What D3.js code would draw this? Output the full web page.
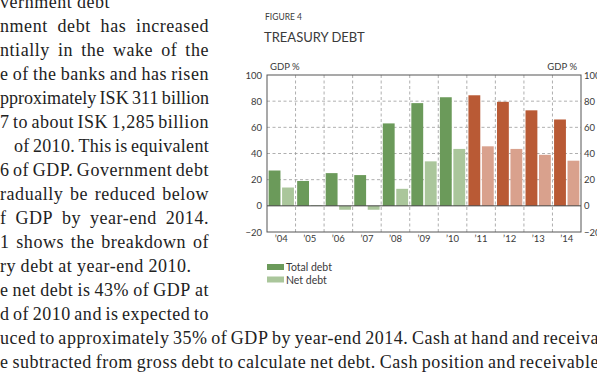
<!DOCTYPE html>
<html>
<head>
<meta charset="UTF-8">
<title>Treasury debt</title>
<script src="https://d3js.org/d3.v7.min.js"></script>
<style>
    body { margin: 0; background: white; }
    svg { display: block; }
    .para { font-family: "Liberation Serif", serif; font-size: 18px; fill: #222; }
    .chart text { font-family: Lato, "Open Sans", sans-serif; fill: #3a3a3a; }
    .tick-label { font-size: 9.5px; }
</style>
</head>
<body>
<script>
    var width = 597, height = 374;

    // chart data
    var years = ["'04", "'05", "'06", "'07", "'08", "'09", "'10", "'11", "'12", "'13", "'14"];
    var totalDebt = [27, 19, 25, 23.5, 63, 78.5, 83, 84.5, 79.5, 73, 66];
    var netDebt = [14, 0.5, -3, -3, 13, 34, 43.5, 45.5, 43.5, 39, 34.5];
    var forecastFrom = 7; // index of first forecast year ('11)
    var yTicks = [-20, 0, 20, 40, 60, 80, 100];

    // body text beside the chart (left edge of the page is cut)
    var paraLines = [
        "vernment debt",
        "nment debt has increased",
        "ntially in the wake of the",
        "e of the banks and has risen",
        "pproximately ISK 311 billion",
        "7 to about ISK 1,285 billion",
        "of 2010. This is equivalent",
        "6 of GDP. Government debt",
        "radually be reduced below",
        "f GDP by year-end 2014.",
        "1 shows the breakdown of",
        "ry debt at year-end 2010.",
        "e net debt is 43% of GDP at",
        "d of 2010 and is expected to",
        "uced to approximately 35% of GDP by year-end 2014. Cash at hand and receiva",
        "e subtracted from gross debt to calculate net debt. Cash position and receivable"
    ];
    var justified = [false, true, true, true, true, true, true, true, true, true, true, false, true, true, true, true];
    var lineStart = [0, 0, 0, 0, 0, 0, 14, 0, 0, 0, 0, 0, 0, 0, 0, 0];

    var svg = d3.select("body").append("svg")
        .attr("width", width).attr("height", height);

    // paragraph, justified word by word
    var para = svg.append("g").attr("class", "para");
    paraLines.forEach(function (line, i) {
        var words = line.split(" ");
        var ly = 8 + i * 24;
        var edge = i >= 14 ? 599 : 209;
        var ls = 0.55;
        var t = para.append("text").attr("y", ly).style("letter-spacing", ls + "px");
        var spans = words.map(function (w) { return t.append("tspan").text(w); });
        var measure = function () { return spans.map(function (s) { return s.node().getComputedTextLength(); }); };
        var widths = measure();
        var room = edge - lineStart[i] - d3.sum(widths);
        var minGap = 3.4;
        if (justified[i] && room < minGap * (words.length - 1)) {
            // squeeze letters so that the words still keep a small space
            var chars = line.replace(/ /g, "").length;
            ls -= (minGap * (words.length - 1) - room) / chars;
            t.style("letter-spacing", ls + "px");
            widths = measure();
            room = edge - lineStart[i] - d3.sum(widths);
        }
        var gap = justified[i] && words.length > 1 ? room / (words.length - 1) : 4.5;
        var lx = lineStart[i];
        spans.forEach(function (s, k) {
            s.attr("x", lx);
            lx += widths[k] + gap;
        });
    });

    // chart
    var pLeft = 267, pRight = 581, pTop = 75, pBottom = 232;
    var chart = svg.append("g").attr("class", "chart");

    var x = d3.scaleBand().domain(years).range([pLeft, pRight]);
    var sub = d3.scaleBand().domain(["total", "net"]).range([0, x.bandwidth()])
        .paddingInner(0.12).paddingOuter(0.12);
    var y = d3.scaleLinear().domain([-20, 100]).range([pBottom, pTop]);

    var colors = {
        total: ["#6b9a5a", "#b95a35"],
        net: ["#aac69b", "#d9a18d"]
    };

    chart.append("text").attr("x", 265).attr("y", 20)
        .style("font-size", "8.5px").text("FIGURE 4");
    chart.append("text").attr("x", 264).attr("y", 42)
        .style("font-size", "13px").text("TREASURY DEBT");
    chart.append("text").attr("x", 270).attr("y", 70)
        .style("font-size", "9.5px").text("GDP %");
    chart.append("text").attr("x", 577).attr("y", 70).attr("text-anchor", "end")
        .style("font-size", "9.5px").text("GDP %");

    // grid
    chart.append("g").selectAll("line").data([20, 40, 60, 80]).enter().append("line")
        .attr("x1", pLeft).attr("x2", pRight)
        .attr("y1", function (d) { return y(d); }).attr("y2", function (d) { return y(d); })
        .attr("stroke", "#9a9a9a").attr("stroke-width", 0.8).attr("stroke-dasharray", "3,2.5");
    chart.append("g").selectAll("line").data(years.slice(1)).enter().append("line")
        .attr("x1", function (d) { return x(d); }).attr("x2", function (d) { return x(d); })
        .attr("y1", pTop).attr("y2", pBottom)
        .attr("stroke", "#9a9a9a").attr("stroke-width", 0.8).attr("stroke-dasharray", "3,2.5");

    // bars
    var bars = [];
    years.forEach(function (yr, i) {
        var f = i >= forecastFrom ? 1 : 0;
        bars.push({ year: yr, key: "total", value: totalDebt[i], color: colors.total[f] });
        bars.push({ year: yr, key: "net", value: netDebt[i], color: colors.net[f] });
    });
    chart.append("g").selectAll("rect").data(bars).enter().append("rect")
        .attr("x", function (d) { return x(d.year) + sub(d.key); })
        .attr("width", sub.bandwidth())
        .attr("y", function (d) { return y(Math.max(0, d.value)); })
        .attr("height", function (d) { return Math.abs(y(d.value) - y(0)); })
        .attr("fill", function (d) { return d.color; });

    // zero line and frame
    chart.append("line").attr("x1", pLeft).attr("x2", pRight)
        .attr("y1", y(0)).attr("y2", y(0))
        .attr("stroke", "#444").attr("stroke-width", 1);
    chart.append("rect").attr("x", pLeft).attr("y", pTop)
        .attr("width", pRight - pLeft).attr("height", pBottom - pTop)
        .attr("fill", "none").attr("stroke", "#555").attr("stroke-width", 1);

    // axis labels
    var yl = chart.append("g").call(d3.axisLeft(y).tickValues(yTicks).tickSize(0).tickPadding(0))
        .attr("transform", "translate(" + (pLeft - 5) + ",0)");
    var yr = chart.append("g").call(d3.axisRight(y).tickValues(yTicks).tickSize(0).tickPadding(0))
        .attr("transform", "translate(" + (pRight + 3) + ",0)");
    var xa = chart.append("g").call(d3.axisBottom(x).tickSize(0).tickPadding(0)
            .tickFormat(function (d) { return d.replace("'", "\u2019"); }))
        .attr("transform", "translate(0," + (pBottom + 3) + ")");
    [yl, yr, xa].forEach(function (g) {
        g.select(".domain").remove();
        g.selectAll("text").attr("class", "tick-label").style("font-family", "Lato, sans-serif")
            .attr("fill", "#3a3a3a");
    });

    // legend
    var legend = chart.append("g").attr("transform", "translate(267,264)");
    [["Total debt", colors.total[0]], ["Net debt", colors.net[0]]].forEach(function (d, i) {
        legend.append("rect").attr("x", 0).attr("y", i * 12.5).attr("width", 17).attr("height", 6)
            .attr("fill", d[1]);
        legend.append("text").attr("x", 19).attr("y", i * 12.5 + 7)
            .style("font-size", "10.5px").text(d[0]);
    });
</script>
</body>
</html>
